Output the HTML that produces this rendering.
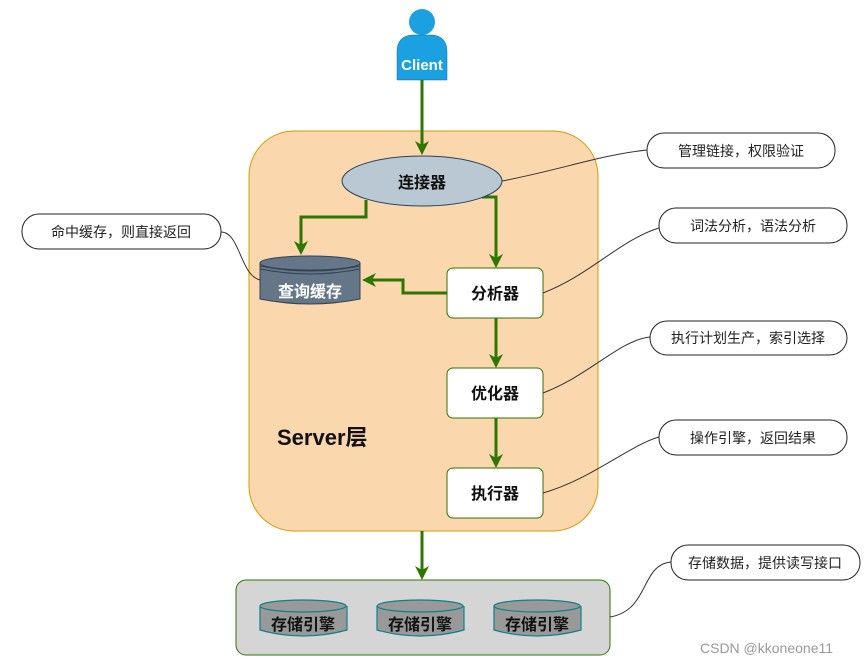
<!DOCTYPE html>
<html><head><meta charset="utf-8"><style>
html,body{margin:0;padding:0;background:#fff;}
svg text{font-family:"Liberation Sans","Noto Sans CJK SC",sans-serif;}
</style></head><body>
<svg width="864" height="663" viewBox="0 0 864 663" xmlns="http://www.w3.org/2000/svg">
<defs>
<marker id="ar" markerWidth="14" markerHeight="14" refX="7" refY="7" orient="auto" markerUnits="userSpaceOnUse">
<path d="M0,0 L14,7 L0,14 L4,7 Z" fill="#2d7600"/></marker>
</defs>
<rect x="249" y="131" width="349" height="400" rx="45" fill="#fad7ac" stroke="#d79b00" stroke-width="1"/>
<circle cx="422" cy="22" r="13" fill="#1ba1e2"/>
<path d="M397,80 L397,52 Q397,36 412,35 L432,35 Q447,36 447,52 L447,80 Z" fill="#1ba1e2" stroke="#006eaf" stroke-width="0.5"/>
<text x="422" y="70" font-size="15" font-weight="bold" fill="#fff" text-anchor="middle">Client</text>
<g stroke="#2d7600" stroke-width="3" fill="none">
<path d="M422,80 L422,148" marker-end="url(#ar)"/>
<path d="M366,200 L366,217 L301,217 L301,248" marker-end="url(#ar)"/>
<path d="M482,197 L496,197 L496,261" marker-end="url(#ar)"/>
<path d="M447,293 L403,293 L403,280 L369,280" marker-end="url(#ar)"/>
<path d="M496,318 L496,361" marker-end="url(#ar)"/>
<path d="M496,418 L496,461" marker-end="url(#ar)"/>
<path d="M422,531 L422,573" marker-end="url(#ar)"/>
</g>
<ellipse cx="422" cy="181" rx="80" ry="25" fill="#bac8d3" stroke="#23445d" stroke-width="1"/>
<text x="422" y="188" font-size="16" font-weight="bold" text-anchor="middle" fill="#111">连接器</text>
<path d="M260,263 L260,299 Q310,309 360,299 L360,263" fill="#647687" stroke="#314354"/>
<ellipse cx="310" cy="263" rx="50" ry="7" fill="#647687" stroke="#314354"/>
<path d="M260,266 Q310,276 360,266 M260,269 Q310,279 360,269" fill="none" stroke="#314354"/>
<text x="310" y="297" font-size="16" font-weight="bold" text-anchor="middle" fill="#fff">查询缓存</text>
<g fill="#fff" stroke="#2d7600" stroke-width="1">
<rect x="447" y="268" width="96" height="50" rx="6"/>
<rect x="447" y="368" width="96" height="50" rx="6"/>
<rect x="447" y="468" width="96" height="50" rx="6"/>
</g>
<g font-size="16" font-weight="bold" text-anchor="middle" fill="#111">
<text x="495" y="299">分析器</text>
<text x="495" y="399">优化器</text>
<text x="495" y="499">执行器</text>
</g>
<text x="277" y="445" font-size="22" font-weight="bold" fill="#111">Server层</text>
<rect x="236" y="580" width="374" height="75" rx="10" fill="#d5d5d5" stroke="#2d7600"/>
<g fill="#999" stroke="#0e8088" stroke-width="1.2">
<path d="M260,606 L260,630 Q303,642 347,630 L347,606"/><ellipse cx="303" cy="606" rx="43" ry="6"/>
<path d="M377,606 L377,630 Q420,642 464,630 L464,606"/><ellipse cx="420" cy="606" rx="43" ry="6"/>
<path d="M494,606 L494,630 Q537,642 581,630 L581,606"/><ellipse cx="537" cy="606" rx="43" ry="6"/>
</g>
<g font-size="16" font-weight="bold" text-anchor="middle" fill="#111">
<text x="303" y="630">存储引擎</text><text x="420" y="630">存储引擎</text><text x="537" y="630">存储引擎</text>
</g>
<g fill="none" stroke="#333" stroke-width="1">
<path d="M502,181 C560,170 600,155 647,150"/>
<path d="M543,293 C590,275 620,240 659,228"/>
<path d="M543,393 C590,375 620,340 650,337"/>
<path d="M543,493 C590,480 630,445 659,437"/>
<path d="M610,617 C650,610 640,565 671,562"/>
<path d="M260,280 C240,275 240,232 221,232"/>
</g>
<g fill="#fff" stroke="#222" stroke-width="1">
<rect x="647" y="133" width="188" height="35" rx="17"/>
<rect x="659" y="208" width="188" height="35" rx="17"/>
<rect x="650" y="321" width="197" height="34" rx="17"/>
<rect x="659" y="420" width="188" height="35" rx="17"/>
<rect x="671" y="545" width="189" height="35" rx="17"/>
<rect x="22" y="214" width="199" height="35" rx="17"/>
</g>
<g font-size="14" text-anchor="middle" fill="#222">
<text x="741" y="156">管理链接，权限验证</text>
<text x="753" y="231">词法分析，语法分析</text>
<text x="748" y="343">执行计划生产，索引选择</text>
<text x="753" y="443">操作引擎，返回结果</text>
<text x="765" y="568">存储数据，提供读写接口</text>
<text x="121" y="237">命中缓存，则直接返回</text>
</g>
<text x="700" y="653" font-size="14" fill="#999">CSDN @kkoneone11</text>
</svg>
</body></html>
